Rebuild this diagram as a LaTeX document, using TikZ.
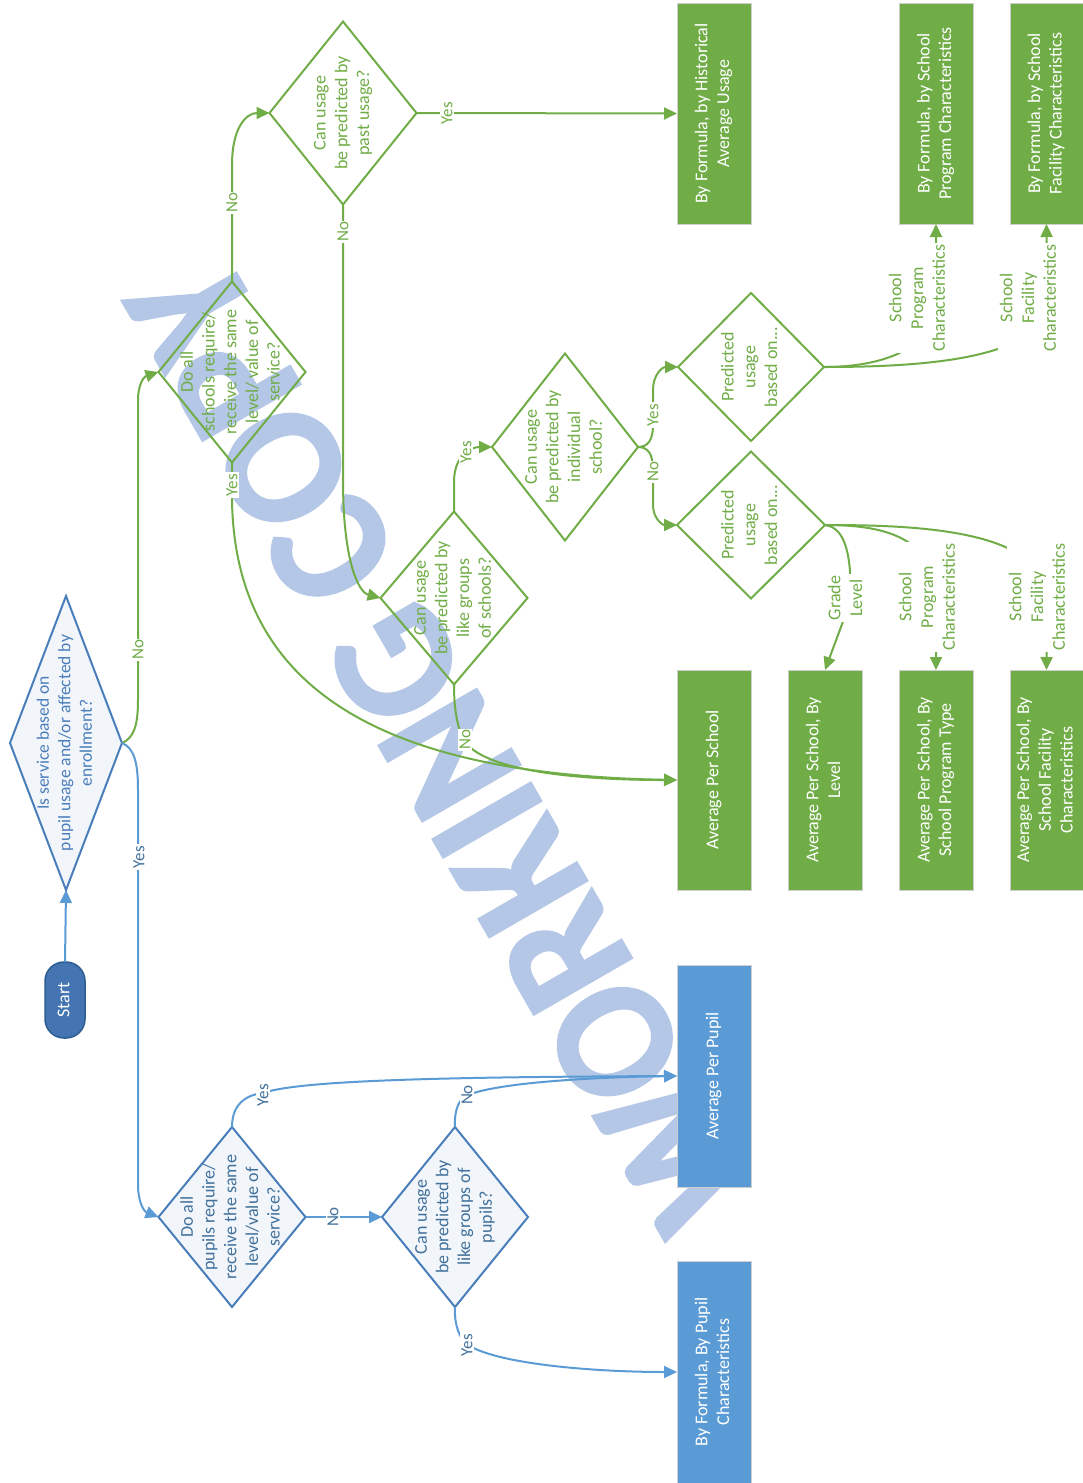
\documentclass[tikz,border=0pt]{standalone}
\usepackage{fontspec}
\usepackage{graphicx}
\setmainfont{Carlito}
\newfontfamily\wmfont{Carlito}[FakeBold=1.5]
\usetikzlibrary{shapes.geometric,arrows.meta}

\definecolor{grn}{HTML}{70AD47}
\definecolor{blu}{HTML}{5B9BD5}
\definecolor{bludark}{HTML}{41719C}
\definecolor{bluedge}{HTML}{4A7EBB}
\definecolor{bluefill}{HTML}{F2F6FB}
\definecolor{startfill}{HTML}{4474B2}
\definecolor{startedge}{HTML}{2F5C93}
\definecolor{wmark}{HTML}{B4C7E7}
\definecolor{boxedge}{HTML}{CFCFCF}

% text set sideways, reading from bottom to top
\newcommand{\vtext}[1]{\rotatebox{90}{\begin{tabular}{@{}c@{}}#1\end{tabular}}}
% same, but taking no room so that the outline keeps its own size
\newcommand{\zbox}[1]{\makebox[0pt]{\raisebox{-.5\height}[0pt][0pt]{#1}}}

\begin{document}
\begin{tikzpicture}[x=1pt,y=-1pt,
  every node/.style={inner sep=0pt, outer sep=0pt},
  txt/.style={font=\fontsize{18}{21.7}\selectfont},
  dia/.style={shape=diamond, line width=2pt, txt},
  gdia/.style={dia, draw=grn, text=grn},
  bdia/.style={dia, draw=bluedge, fill=bluefill, text=bludark},
  outbox/.style={rectangle, draw=boxedge, line width=1pt, minimum width=74pt,
                 minimum height=221pt, text=white, txt},
  gbox/.style={outbox, fill=grn},
  bbox/.style={outbox, fill=blu},
  gline/.style={draw=grn, line width=2pt},
  bline/.style={draw=blu, line width=2pt},
  arr/.style={-{Triangle[length=13pt,width=12pt]}},
  lbl/.style={rotate=90, fill=white, inner sep=1.5pt, align=center},
  glbl/.style={lbl, text=grn},
  blbl/.style={lbl, text=bludark},
  yn/.style={font=\fontsize{17}{20}\selectfont},
  conn/.style={font=\fontsize{18}{21.7}\selectfont},
]
\useasboundingbox (0,0) rectangle (1083,1483);
\fill[white] (0,0) rectangle (1083,1483);

% watermark
\node[rotate=120, xscale=0.93, text=wmark, font=\wmfont\bfseries\fontsize{174}{174}\selectfont] (wm) at (443,744) {WORKING COPY};

% start and first question
\node[draw=startedge, fill=startfill, line width=1.5pt, rounded corners=19pt,
      minimum width=40pt, minimum height=76pt, text=white, txt] (start) at (65,1000) {\vtext{Start}};
\node[bdia, minimum width=112pt, minimum height=294pt, text=bluedge,
      font=\fontsize{17.5}{21.5}\selectfont] (d1) at (66,743)
  {\zbox{\vtext{Is service based on\\pupil usage and/or affected by\\enrollment?}}};

% school branch questions
\node[gdia, minimum width=147pt, minimum height=181pt] (d2) at (232,372)
  {\zbox{\vtext{Do all\\schools require/\\receive the same\\level/ value of\\service?}}};
\node[gdia, minimum width=147pt, minimum height=183pt] (d3) at (343,113)
  {\zbox{\vtext{Can usage\\be predicted by\\past usage?}}};
\node[gdia, minimum width=147pt, minimum height=173pt] (d5) at (454,598)
  {\zbox{\vtext{Can usage\\be predicted by\\like groups\\of schools?}}};
\node[gdia, minimum width=146pt, minimum height=187pt] (d6) at (565,447)
  {\zbox{\vtext{Can usage\\be predicted by\\individual\\school?}}};
\node[gdia, minimum width=146pt, minimum height=148pt] (d7) at (751,367)
  {\zbox{\vtext{Predicted\\usage\\based on...}}};
\node[gdia, minimum width=148pt, minimum height=147pt] (d8) at (751,525)
  {\zbox{\vtext{Predicted\\usage\\based on...}}};

% pupil branch questions
\node[bdia, minimum width=147pt, minimum height=180pt] (d4) at (232,1217)
  {\zbox{\vtext{Do all\\pupils require/\\receive the same\\level/value of\\service?}}};
\node[bdia, minimum width=146pt, minimum height=180pt] (d9) at (455,1217)
  {\zbox{\vtext{Can usage\\be predicted by\\like groups of\\pupils?}}};

% outcomes
\node[gbox] (b1) at (714,113.5) {\vtext{By Formula, by Historical\\Average Usage}};
\node[gbox] (b2) at (936,113.5) {\vtext{By Formula, by School\\Program Characteristics}};
\node[gbox, minimum width=73pt] (b3) at (1046.5,113.5) {\vtext{By Formula, by School\\Facility Characteristics}};
\node[gbox, minimum height=220pt] (b4) at (714,780) {\vtext{Average Per School}};
\node[gbox, minimum height=220pt] (b5) at (825,780) {\vtext{Average Per School, By\\Level}};
\node[gbox, minimum height=220pt] (b6) at (936,780) {\vtext{Average Per School, By\\School Program Type}};
\node[gbox, minimum height=220pt, minimum width=73pt] (b7) at (1046.5,780) {\vtext{Average Per School, By\\School Facility\\Characteristics}};
\node[bbox, minimum height=222pt] (apupil) at (714,1076) {\vtext{Average Per Pupil}};
\node[bbox, minimum height=222pt] (fpupil) at (714,1372) {\vtext{By Formula, By Pupil\\Characteristics}};

% connectors
\draw[bline, arr] (start.north) -- (d1.south);

\draw[gline, arr] (d1.east) .. controls (134,738) and (138,725) .. (138,700) -- (138,400)
  .. controls (138,386) and (143,377) .. (d2.west);
\node[glbl, yn] (n1) at (138,650) {No};
\draw[bline, arr] (d1.east) .. controls (134,748) and (138,762) .. (138,790) -- (138,1185)
  .. controls (138,1200) and (143,1211) .. (d4.west);
\node[blbl, yn] (y1) at (139,857) {Yes};

\draw[gline, arr] (d2.north) -- (232,165) .. controls (232,128) and (246,113) .. (d3.west);
\node[glbl, yn] (n2) at (232,203) {No};
\draw[gline, arr] (d3.east) -- (b1.west);
\node[glbl, yn] (y2) at (447,113) {Yes};
\draw[gline, arr] (d3.south) -- (343,480) .. controls (343,560) and (358,592) .. (d5.west);
\node[glbl, yn] (n3) at (343,232) {No};

\draw[gline, arr] (d2.south) -- (232,500) .. controls (235,700) and (400,775) .. (b4.west);
\node[glbl, yn] (y3) at (232,485) {Yes};
\draw[gline, arr] (d5.south) .. controls (454,712) and (458,730) .. (465,742)
  .. controls (490,775) and (600,780) .. (b4.west);
\node[glbl, yn] (n4) at (465,740) {No};

\draw[gline, arr] (d5.north) -- (454,482) .. controls (454,456) and (470,447) .. (d6.west);
\node[glbl, yn] (y4) at (466,452) {Yes};

\draw[gline, arr] (d6.east) .. controls (648,447) and (653,440) .. (653,425) -- (653,390)
  .. controls (653,375) and (662,367) .. (d7.west);
\node[glbl, yn] (y5) at (653,415) {Yes};
\draw[gline, arr] (d6.east) .. controls (648,447) and (653,454) .. (653,470) -- (653,505)
  .. controls (653,518) and (662,525) .. (d8.west);
\node[glbl, yn] (n5) at (653,472) {No};

\draw[gline, arr] (d7.east) .. controls (880,367) and (936,350) .. (936,300) -- (b2.south);
\node[glbl, conn] (c1) at (917,298) {School\\Program\\Characteristics};
\draw[gline, arr] (d7.east) .. controls (920,367) and (1047,360) .. (1047,300) -- (b3.south);
\node[glbl, conn] (c2) at (1028,298) {School\\Facility\\Characteristics};

\draw[gline, arr] (d8.east) .. controls (846,528) and (851,555) .. (851,600) -- (b5.north);
\node[glbl, conn] (c3) at (845,598) {Grade\\Level};
\draw[gline, arr] (d8.east) .. controls (880,525) and (936,535) .. (936,600) -- (b6.north);
\node[glbl, conn] (c4) at (927,597) {School\\Program\\Characteristics};
\draw[gline, arr] (d8.east) .. controls (920,525) and (1047,530) .. (1047,600) -- (b7.north);
\node[glbl, conn] (c5) at (1037,597) {School\\Facility\\Characteristics};

\draw[bline, arr] (d4.east) -- (d9.west);
\node[blbl, yn] (n6) at (333,1217) {No};
\draw[bline, arr] (d4.north) .. controls (232,1105) and (245,1095) .. (263,1093)
  .. controls (300,1080) and (450,1077) .. (apupil.west);
\node[blbl, yn] (y6) at (263,1095) {Yes};
\draw[bline, arr] (d9.north) .. controls (454,1108) and (460,1098) .. (468,1095)
  .. controls (500,1082) and (600,1077) .. (apupil.west);
\node[blbl, yn] (n7) at (467,1095) {No};
\draw[bline, arr] (d9.south) .. controls (454,1325) and (460,1340) .. (468,1345)
  .. controls (500,1365) and (600,1372) .. (fpupil.west);
\node[blbl, yn] (y7) at (467,1345) {Yes};
\end{tikzpicture}
\end{document}
